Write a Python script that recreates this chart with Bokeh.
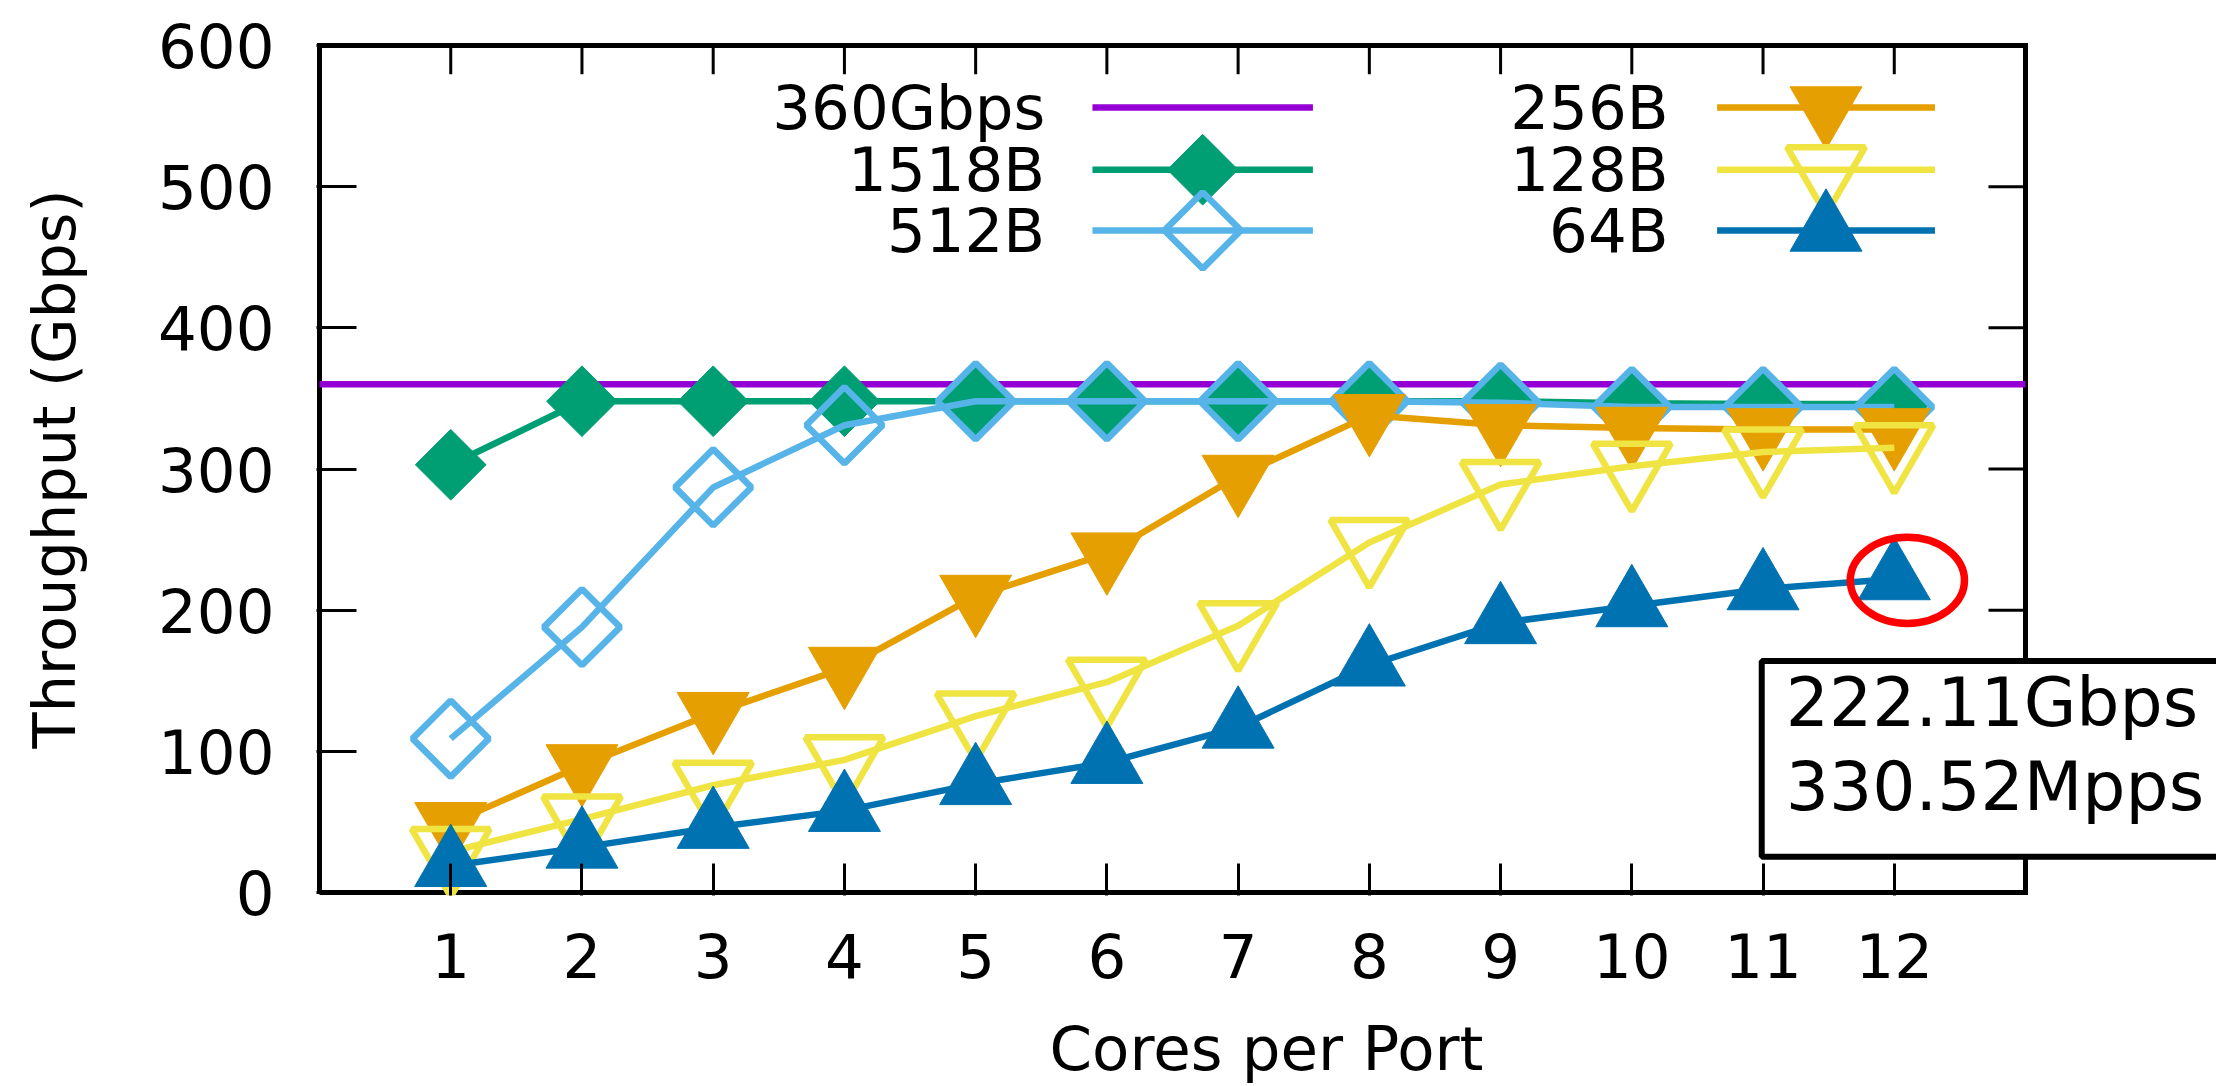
import math
from bokeh.plotting import figure
from bokeh.models import FixedTicker, Range1d, Label
from bokeh.core.properties import value
from bokeh.embed import file_html
from bokeh.resources import INLINE

# ---------------- data ----------------
cores = [1, 2, 3, 4, 5, 6, 7, 8, 9, 10, 11, 12]
line_rate = 360
tput_1518 = [303, 348, 348, 348, 348, 348, 348, 348, 348, 346.5, 346, 346]
tput_512 = [109, 188, 287, 331, 348, 348, 348, 348, 347, 344, 344, 344]
tput_256 = [49, 90, 127, 159, 210, 240, 295, 338, 331, 329, 328, 328]
tput_128 = [29, 52, 76, 94, 125, 149, 189, 248, 289, 302, 312, 315]
tput_64 = [19, 32, 46, 58, 77, 92, 117, 161, 191, 203, 215, 222.11]
x_ticks = cores
y_ticks = [0, 100, 200, 300, 400, 500, 600]
series_names = ["360Gbps", "1518B", "512B", "256B", "128B", "64B"]
note_text = "222.11Gbps\n330.52Mpps"

# axis box of the chart (data units)
X_LO, X_HI = 0, 13
Y_LO, Y_HI = 0, 600

# ---------------- layout / style ----------------
W, H = 2216, 1086
BOX_L, BOX_R, BOX_T, BOX_B = 319, 2025, 45, 899      # pixel position of the axis box
PAD = 3                                               # frame slack so the border is not clipped
PX_X = (BOX_R - BOX_L) / (X_HI - X_LO)                # pixels per x unit
PX_Y = (BOX_B - BOX_T) / (Y_HI - Y_LO)                # pixels per y unit

FONT = "DejaVu Sans"
FS = "61px"
C_PURPLE = "#9400d3"
C_GREEN = "#009e73"
C_SKY = "#56b4e9"
C_ORANGE = "#e69f00"
C_YELLOW = "#f0e442"
C_BLUE = "#0072b2"
LW = 6.5

x_start = X_LO - PAD / PX_X
x_end = X_HI + (W - BOX_R) / PX_X
y_start = Y_LO - PAD / PX_Y
y_end = Y_HI + PAD / PX_Y

p = figure(width=W, height=H, output_backend="svg", toolbar_location=None,
           x_range=Range1d(x_start, x_end), y_range=Range1d(y_start, y_end),
           min_border_left=BOX_L - PAD, min_border_right=0,
           min_border_top=BOX_T - PAD, min_border_bottom=H - BOX_B - PAD)
p.background_fill_color = "white"
p.border_fill_color = "white"
p.outline_line_color = None
p.xgrid.visible = False
p.ygrid.visible = False

def style_axis(ax, tick_in):
    ax.axis_line_color = None
    ax.major_tick_in = tick_in
    ax.major_tick_out = 0
    ax.major_tick_line_width = 3
    ax.major_tick_line_color = "black"
    ax.minor_tick_line_color = None
    ax.major_label_text_font = FONT
    ax.major_label_text_color = "black"
    ax.major_label_text_font_size = FS
    ax.axis_label_text_font = FONT
    ax.axis_label_text_color = "black"
    ax.axis_label_text_font_style = "normal"

X_TICK_LEN, Y_TICK_LEN = 29, 37

xa = p.xaxis[0]
xa.ticker = FixedTicker(ticks=x_ticks)
style_axis(xa, X_TICK_LEN + PAD)
xa.major_label_standoff = 37
xa.axis_label = "Cores per Port"
xa.axis_label_text_font_size = FS
xa.axis_label_standoff = 32

ya = p.yaxis[0]
ya.ticker = FixedTicker(ticks=y_ticks)
style_axis(ya, Y_TICK_LEN + PAD)
ya.major_label_standoff = 42
ya.axis_label = "Throughput (Gbps)"
ya.axis_label_text_font_size = "59px"
ya.axis_label_standoff = 66

# axis box border and mirrored ticks (top and right)
p.line([X_LO, X_HI, X_HI, X_LO, X_LO], [Y_LO, Y_LO, Y_HI, Y_HI, Y_LO],
       line_color="black", line_width=5, line_join="miter")
p.segment(x0=x_ticks, y0=[Y_HI] * len(x_ticks), x1=x_ticks,
          y1=[Y_HI - X_TICK_LEN / PX_Y] * len(x_ticks), line_color="black", line_width=3)
p.segment(x0=[X_HI] * len(y_ticks), y0=y_ticks, x1=[X_HI - Y_TICK_LEN / PX_X] * len(y_ticks),
          y1=y_ticks, line_color="black", line_width=3)

# 360 Gbps line rate
p.line([X_LO, X_HI], [line_rate, line_rate], line_color=C_PURPLE, line_width=LW)

sq_angle = math.pi / 4
# 1518B
p.line(cores, tput_1518, line_color=C_GREEN, line_width=LW)
p.scatter(cores, tput_1518, marker="square", angle=sq_angle, size=50,
          fill_color=C_GREEN, line_color=C_GREEN, line_width=1)
# 512B
p.line(cores, tput_512, line_color=C_SKY, line_width=LW)
p.scatter(cores, tput_512, marker="square", angle=sq_angle, size=54,
          fill_color=None, line_color=C_SKY, line_width=LW)
# 256B
p.line(cores, tput_256, line_color=C_ORANGE, line_width=LW)
p.scatter(cores, tput_256, marker="inverted_triangle", size=72,
          fill_color=C_ORANGE, line_color=C_ORANGE, line_width=1)
# 128B
p.line(cores, tput_128, line_color=C_YELLOW, line_width=LW)
p.scatter(cores, tput_128, marker="inverted_triangle", size=78,
          fill_color=None, line_color=C_YELLOW, line_width=LW)
# 64B
p.line(cores, tput_64, line_color=C_BLUE, line_width=LW)
p.scatter(cores, tput_64, marker="triangle", size=72,
          fill_color=C_BLUE, line_color=C_BLUE, line_width=1)

# highlight of the last 64B point
p.ellipse(x=[cores[-1] + 0.1], y=[tput_64[-1] - 1], width=0.87, height=61,
          fill_color=None, line_color="#ff0000", line_width=7.5)

# ---------------- legend (gnuplot style: label, then sample) ----------------
LEG_ROWS = [556, 512, 469]
LEG_COLS = [(5.53, 5.89, 7.57, 6.73), (10.28, 10.65, 12.31, 11.48)]
leg_specs = [
    (C_PURPLE, None, None, None, None),
    (C_GREEN, "square", 50, C_GREEN, 1),
    (C_SKY, "square", 54, None, LW),
    (C_ORANGE, "inverted_triangle", 72, C_ORANGE, 1),
    (C_YELLOW, "inverted_triangle", 78, None, LW),
    (C_BLUE, "triangle", 72, C_BLUE, 1),
]
for i, name in enumerate(series_names):
    col, row = divmod(i, 3)
    tx, x0, x1, xm = LEG_COLS[col]
    ly = LEG_ROWS[row]
    color, mk, sz, fill, mlw = leg_specs[i]
    p.text(x=[tx], y=[ly], text=[name], text_align="right", text_baseline="middle",
           text_font=value(FONT), text_font_size=FS, text_color="black")
    p.line([x0, x1], [ly, ly], line_color=color, line_width=LW)
    if mk is not None:
        p.scatter([xm], [ly], marker=mk, size=sz, fill_color=fill, line_color=color,
                  line_width=mlw, angle=sq_angle if mk == "square" else 0)

# ---------------- annotation box ----------------
p.add_layout(Label(x=10.99, y=164, x_units="data", y_units="data", text=note_text,
                   anchor="top_left", text_font=FONT, text_font_size="68px",
                   text_line_height=1.06, text_color="black",
                   padding=dict(left=24, right=40, top=2, bottom=31),
                   border_line_color="black", border_line_width=6,
                   background_fill_color="white", level="overlay"))

open("out.html", "w").write(file_html(p, INLINE))
